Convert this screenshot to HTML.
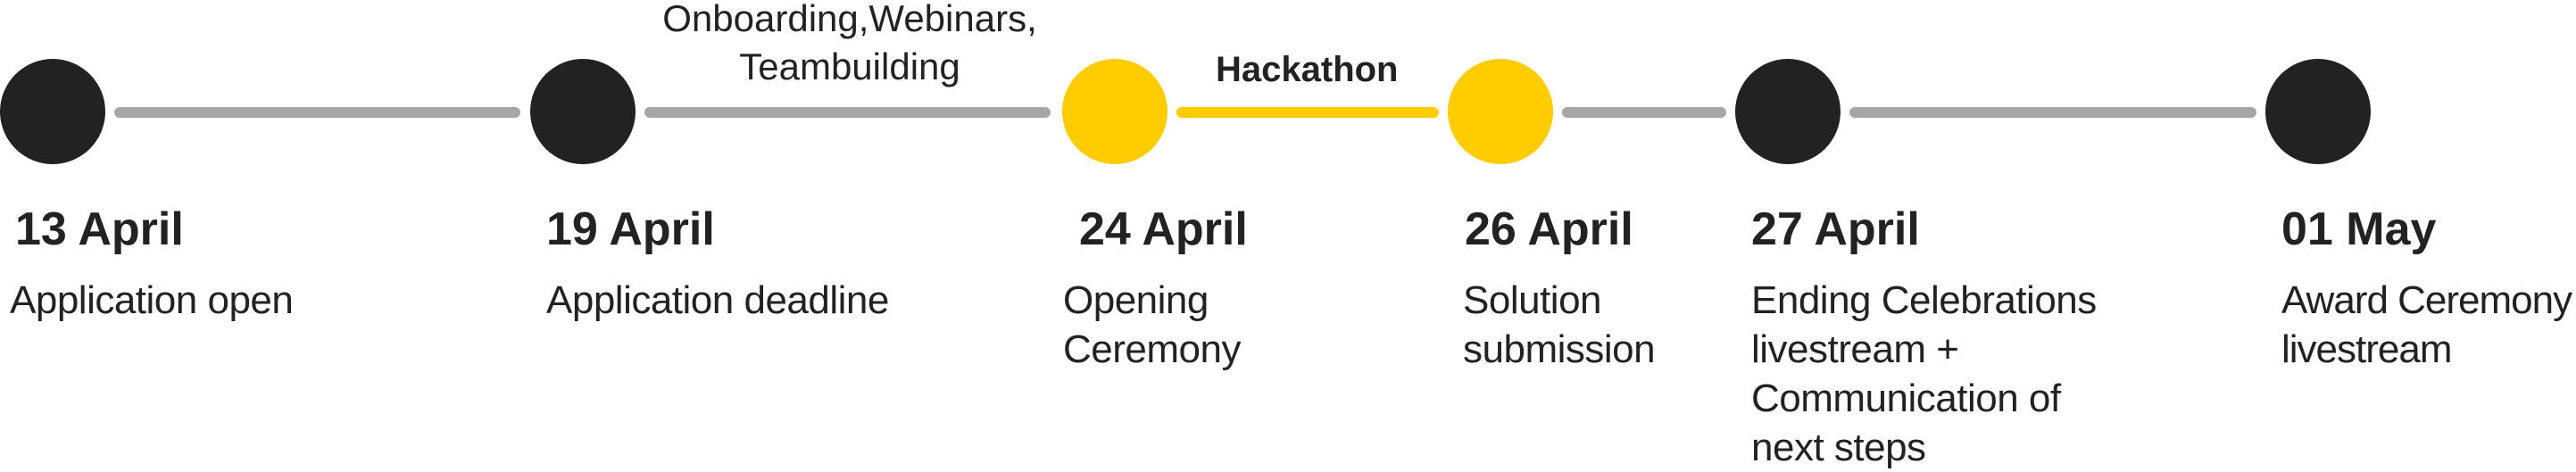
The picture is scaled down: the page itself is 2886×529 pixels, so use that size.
<!DOCTYPE html>
<html><head><meta charset="utf-8"><style>
html,body{margin:0;padding:0;background:#fff;}
body{width:2886px;height:528px;position:relative;overflow:hidden;font-family:"Liberation Sans",sans-serif;color:#222;}
.c{position:absolute;top:66px;width:118px;height:118px;border-radius:50%;background:#222;}
.y{background:#FFCC00;}
.l{position:absolute;top:120px;height:12px;border-radius:6px;background:#A6A6A6;}
.d{position:absolute;top:227px;font-size:52px;font-weight:bold;line-height:60px;white-space:nowrap;}
.t{position:absolute;top:309px;font-size:44px;line-height:55px;white-space:nowrap;letter-spacing:-0.5px;}
</style></head><body>
<div class="c" style="left:0"></div>
<div class="l" style="left:128px;width:455px"></div>
<div class="c" style="left:594px"></div>
<div class="l" style="left:722px;width:455px"></div>
<div class="c y" style="left:1190px"></div>
<div class="l" style="left:1318px;width:294px;background:#FFCC00"></div>
<div class="c y" style="left:1622px"></div>
<div class="l" style="left:1750px;width:184px"></div>
<div class="c" style="left:1944px"></div>
<div class="l" style="left:2072px;width:456px"></div>
<div class="c" style="left:2538px"></div>

<div style="position:absolute;left:702px;width:500px;top:-6px;text-align:center;font-size:42px;line-height:54px;">Onboarding,Webinars,<br>Teambuilding</div>
<div style="position:absolute;left:1362px;top:58px;font-size:40px;font-weight:bold;line-height:40px;">Hackathon</div>

<div class="d" style="left:17px">13 April</div>
<div class="d" style="left:612px">19 April</div>
<div class="d" style="left:1209px">24 April</div>
<div class="d" style="left:1641px">26 April</div>
<div class="d" style="left:1962px">27 April</div>
<div class="d" style="left:2556px">01 May</div>

<div class="t" style="left:11px">Application open</div>
<div class="t" style="left:612px">Application deadline</div>
<div class="t" style="left:1191px">Opening<br>Ceremony</div>
<div class="t" style="left:1639px">Solution<br>submission</div>
<div class="t" style="left:1962px">Ending Celebrations<br>livestream +<br>Communication of<br>next steps</div>
<div class="t" style="left:2556px;letter-spacing:-1px">Award Ceremony<br>livestream</div>
</body></html>
